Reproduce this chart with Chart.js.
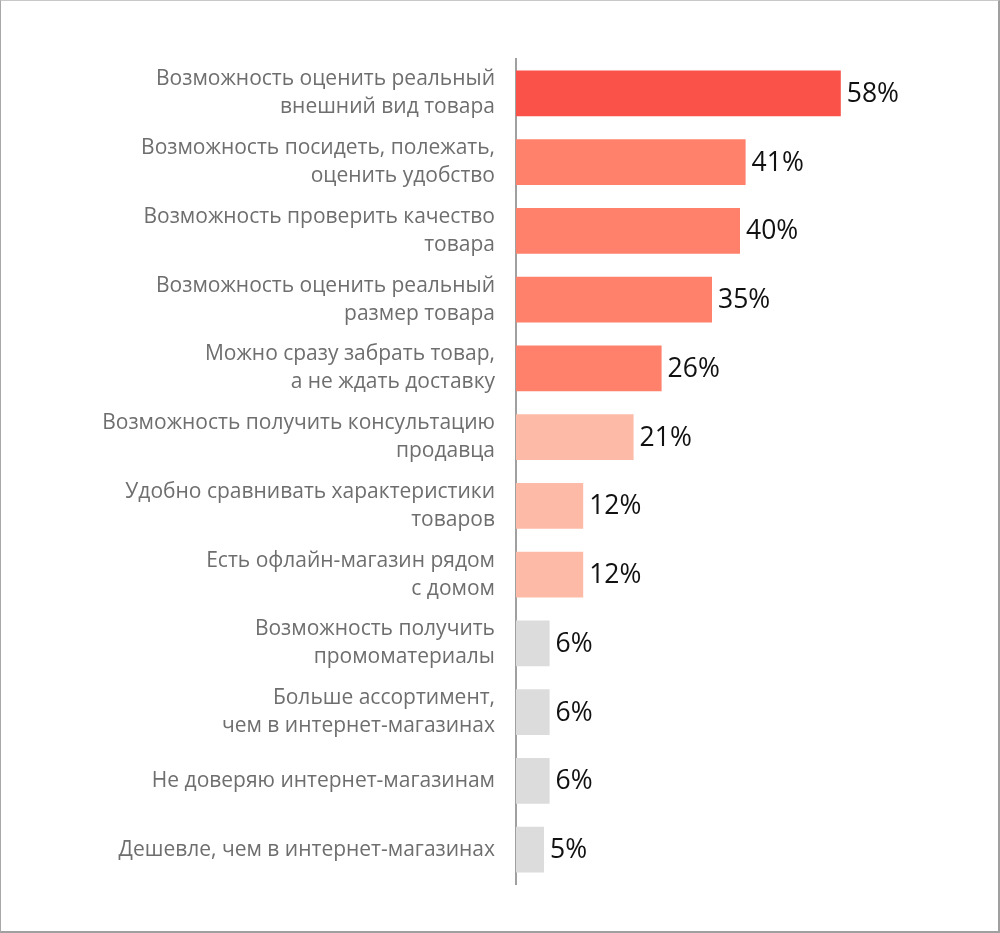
<!DOCTYPE html>
<html>
<head>
<meta charset="utf-8">
<script src="https://cdn.jsdelivr.net/npm/chart.js@4"></script>
<style>
  html, body { margin: 0; padding: 0; background: #fff; }
  #wrap { position: relative; width: 1000px; height: 933px; }
  #frame {
    position: absolute; left: 0; top: 0; width: 1000px; height: 933px;
    box-sizing: border-box; pointer-events: none;
    border-left: 1px solid #a8a8a8; border-top: 1px solid #c8c8c8;
    border-right: 2px solid #a0a0a0; border-bottom: 2px solid #a0a0a0;
  }
  canvas { position: absolute; left: 0; top: 0; }
</style>
</head>
<body>
<div id="wrap">
  <canvas id="barChart" width="1000" height="933"></canvas>
  <div id="frame"></div>
</div>
<script>
// catégories (deux lignes quand le libellé est long)
const categories = [
    ['Возможность оценить реальный', 'внешний вид товара'],
    ['Возможность посидеть, полежать,', 'оценить удобство'],
    ['Возможность проверить качество', 'товара'],
    ['Возможность оценить реальный', 'размер товара'],
    ['Можно сразу забрать товар,', 'а не ждать доставку'],
    ['Возможность получить консультацию', 'продавца'],
    ['Удобно сравнивать характеристики', 'товаров'],
    ['Есть офлайн-магазин рядом', 'с домом'],
    ['Возможность получить', 'промоматериалы'],
    ['Больше ассортимент,', 'чем в интернет-магазинах'],
    'Не доверяю интернет-магазинам',
    'Дешевле, чем в интернет-магазинах'
];

// valeurs en %
const values = [58, 41, 40, 35, 26, 21, 12, 12, 6, 6, 6, 5];

// couleurs des barres
const barColors = [
    '#fa5148',
    '#ff806b', '#ff806b', '#ff806b', '#ff806b',
    '#fdbba7', '#fdbba7', '#fdbba7',
    '#dcdcdc', '#dcdcdc', '#dcdcdc', '#dcdcdc'
];

// étiquettes de valeur à droite des barres
const valueLabels = {
    id: 'valueLabels',
    afterDatasetsDraw(chart) {
        const ctx = chart.ctx;
        const meta = chart.getDatasetMeta(0);
        ctx.save();
        ctx.font = '26.5px "Open Sans"';
        ctx.fillStyle = '#111';
        ctx.textAlign = 'left';
        ctx.textBaseline = 'middle';
        meta.data.forEach((bar, i) => {
            ctx.fillText(values[i] + '%', bar.x + 6, bar.y + 1);
        });
        ctx.restore();
    }
};

const barData = {
    labels: categories,
    datasets: [{
        data: values,
        backgroundColor: barColors,
        borderWidth: 0,
        categoryPercentage: 0.667,
        barPercentage: 1
    }]
};

const barOptions = {
    indexAxis: 'y',
    responsive: false,
    animation: false,
    layout: {
        padding: { top: 59, bottom: 47, left: 0, right: 36 }
    },
    plugins: {
        legend: { display: false },
        tooltip: { enabled: false }
    },
    scales: {
        x: {
            display: false,
            min: 0,
            max: 80
        },
        y: {
            grid: { display: false, drawTicks: false },
            border: { display: true, color: '#a0a0a0', width: 2 },
            ticks: {
                color: '#6e6e6e',
                padding: 21,
                font: { family: '"Open Sans"', size: 21, lineHeight: 1.33 }
            },
            afterFit(scale) {
                scale.width = 516;
            }
        }
    }
};

let barCtx = document.getElementById('barChart').getContext('2d');

const myBarChart = new Chart(barCtx, {
    type: 'bar',
    data: barData,
    options: barOptions,
    plugins: [valueLabels]
});
</script>
</body>
</html>
